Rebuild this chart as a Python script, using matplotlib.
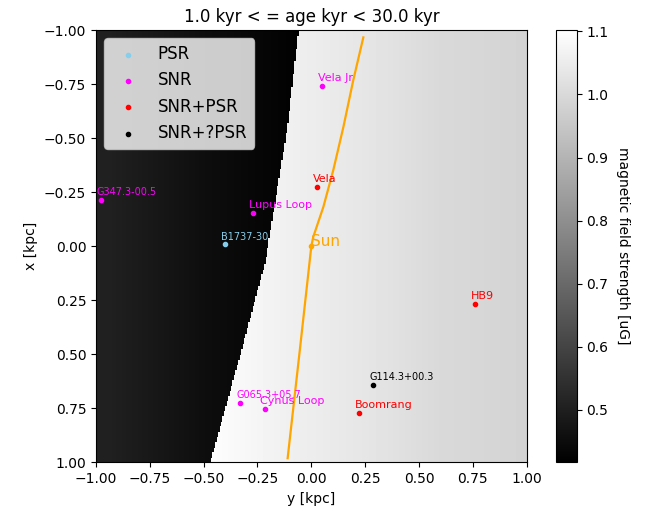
import numpy as np
import matplotlib
matplotlib.use("Agg")
import matplotlib.pyplot as plt

# sources (y, x in kpc)
names = ['Vela Jr', 'Vela', 'G347.3-00.5', 'Lupus Loop', 'B1737-30', 'HB9',
         'G114.3+00.3', 'Boomrang', 'G065.3+05.7', 'Cynus Loop']
kinds = ['SNR', 'SNR+PSR', 'SNR', 'SNR', 'PSR', 'SNR+PSR',
         'SNR+?PSR', 'SNR+PSR', 'SNR', 'SNR']
src_y = [0.05, 0.027, -0.977, -0.271, -0.401, 0.761, 0.288, 0.223, -0.33, -0.217]
src_x = [-0.742, -0.273, -0.213, -0.154, -0.008, 0.269, 0.64, 0.77, 0.727, 0.753]

# sun track
orbit_y = [0.2415, 0.195, 0.149, 0.102, 0.056, 0.009, 0.0, -0.052, -0.11]
orbit_x = [-0.966, -0.769, -0.552, -0.352, -0.182, -0.043, 0.0, 0.468, 0.981]

# field: boundary between low/high field and profiles along y
edge_x = [-1.0, -0.543, -0.079, 0.074, 0.538, 1.0]
edge_y = [-0.06, -0.113, -0.19, -0.214, -0.34, -0.47]
low_y = [-1.0, -0.5, -0.06]
low_B = [0.51, 0.455, 0.42]
high_y = [-0.5, -0.1, 0.3, 0.6, 1.0]
high_B = [1.1, 1.06, 1.03, 1.0, 0.985]

colors = {'PSR': 'skyblue', 'SNR': 'magenta', 'SNR+PSR': 'red', 'SNR+?PSR': 'black'}
small = {'G347.3-00.5', 'B1737-30', 'G114.3+00.3', 'G065.3+05.7'}

n = 300
gy = np.linspace(-1, 1, n)
gx = np.linspace(-1, 1, n)
YY, XX = np.meshgrid(gy, gx)
bound = np.interp(XX, edge_x, edge_y)
field = np.where(YY < bound, np.interp(YY, low_y, low_B), np.interp(YY, high_y, high_B))

fig = plt.figure(figsize=(6.52, 5.12), dpi=100)
ax = fig.add_axes([0.1472, 0.097, 0.6606, 0.8443])
cax = fig.add_axes([0.8528, 0.097, 0.032, 0.8443])

im = ax.imshow(field, cmap='gray', extent=(-1, 1, 1, -1), aspect='auto',
               interpolation='nearest', vmin=0.417, vmax=1.102)

for k in ['PSR', 'SNR', 'SNR+PSR', 'SNR+?PSR']:
    idx = [i for i, t in enumerate(kinds) if t == k]
    ax.scatter([src_y[i] for i in idx], [src_x[i] for i in idx], s=9,
               color=colors[k], label=k, zorder=3)
for i, nm in enumerate(names):
    ax.annotate(nm, (src_y[i], src_x[i]), xytext=(-3, 3.5), textcoords='offset points',
                color=colors[kinds[i]], fontsize=7 if nm in small else 8, zorder=4)

ax.plot(orbit_y, orbit_x, color='orange', lw=1.6, zorder=2)
ax.scatter([0], [0], s=9, color='orange', zorder=3)
ax.text(0, 0, 'Sun', color='orange', fontsize=11)

ax.set_xlim(-1, 1)
ax.set_ylim(1, -1)
ax.set_xlabel('y [kpc]')
ax.set_ylabel('x [kpc]')
ax.set_title('1.0 kyr < = age kyr < 30.0 kyr')
ax.legend(loc='upper left', fontsize=12)

cb = fig.colorbar(im, cax=cax)
cb.set_label('magnetic field strength [uG]', rotation=270, labelpad=15)

fig.savefig('out.png', dpi=100)
